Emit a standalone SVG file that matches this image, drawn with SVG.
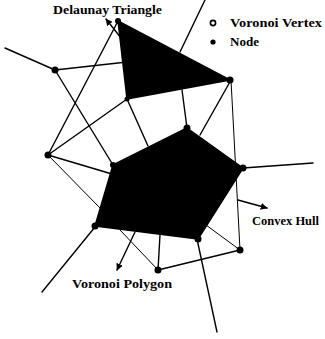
<svg xmlns="http://www.w3.org/2000/svg" width="325" height="339" viewBox="0 0 325 339">
<style>
.lbl{font-family:"Liberation Serif","Times New Roman",serif;font-weight:bold;font-size:13px;fill:#000}
.v{stroke:#000;stroke-width:1.4;fill:none;stroke-linecap:round}
.d{stroke:#000;stroke-width:1;fill:none}
.node{fill:#000}
.reg{fill:#000;stroke:#000;stroke-width:1.5;stroke-linejoin:round}
</style>
<defs>
<marker id="ah" viewBox="0 0 10 10" refX="9" refY="5" markerWidth="7" markerHeight="7" orient="auto" markerUnits="userSpaceOnUse">
<path d="M0,0 L10,5 L0,10 z" fill="#000"/>
</marker>
</defs>
<rect width="325" height="339" fill="#fff"/>
<g id="connectors">
<line class="v" x1="5" y1="48" x2="55" y2="70"/>
<line class="v" x1="55" y1="70" x2="127" y2="62"/>
<line class="v" x1="55" y1="70" x2="113" y2="165"/>
<line class="v" x1="127" y1="99" x2="148" y2="146"/>
<line class="v" x1="48" y1="155" x2="112" y2="174"/>
<line class="v" x1="205" y1="0" x2="180" y2="52"/>
<line class="v" x1="182" y1="90" x2="187" y2="128"/>
<line class="v" x1="231" y1="80" x2="200" y2="135"/>
<line class="v" x1="243" y1="168" x2="313" y2="163"/>
<line class="v" x1="95" y1="227" x2="42" y2="292"/>
<line class="v" x1="197" y1="239" x2="217" y2="332"/>
<line class="v" x1="158" y1="270" x2="160" y2="235"/>
<line class="v" x1="240" y1="250" x2="158" y2="270"/>
<line class="v" x1="48" y1="155" x2="118" y2="21"/>
<line class="v" x1="48" y1="155" x2="127" y2="99"/>
<line class="d" x1="48" y1="155" x2="100" y2="208"/>
<line class="d" x1="231" y1="80" x2="240" y2="250"/>
<line class="d" x1="158" y1="270" x2="120" y2="230"/>
<line class="d" x1="240" y1="250" x2="206" y2="225"/>
<line class="v" x1="121" y1="38" x2="106" y2="19" marker-end="url(#ah)"/>
<line class="v" x1="238" y1="200" x2="267" y2="208" marker-end="url(#ah)"/>
<line class="v" x1="135" y1="232" x2="117" y2="270" marker-end="url(#ah)"/>
</g>
<g id="delaunay-triangle">
<polygon class="reg" points="118,21 230,80 127,99"/>
</g>
<g id="voronoi-polygon">
<polygon class="reg" points="187,128 243,168 198,239 95,226 113,165"/>
</g>
<g id="nodes">
<circle class="node" cx="55" cy="70" r="3.5"/>
<circle class="node" cx="48" cy="155" r="3.5"/>
<circle class="node" cx="118" cy="21" r="3"/>
<circle class="node" cx="230" cy="80" r="3.5"/>
<circle class="node" cx="127" cy="99" r="2.5"/>
<circle class="node" cx="240" cy="250" r="3.5"/>
<circle class="node" cx="158" cy="270" r="3.5"/>
<circle class="node" cx="187" cy="128" r="3.5"/>
<circle class="node" cx="243" cy="168" r="3.5"/>
<circle class="node" cx="113" cy="165" r="3"/>
<circle class="node" cx="95" cy="226" r="3.5"/>
<circle class="node" cx="198" cy="239" r="3.5"/>
</g>
<g id="label-delaunay">
<text class="lbl" x="53" y="14" textLength="109" lengthAdjust="spacingAndGlyphs">Delaunay Triangle</text>
</g>
<g id="legend">
<circle cx="213" cy="23" r="2.6" fill="none" stroke="#000" stroke-width="1.6"/>
<text class="lbl" x="230" y="27" textLength="92" lengthAdjust="spacingAndGlyphs">Voronoi Vertex</text>
<circle cx="213" cy="42" r="2.6" fill="#000"/>
<text class="lbl" x="230" y="46" textLength="29" lengthAdjust="spacingAndGlyphs">Node</text>
</g>
<g id="label-hull">
<text class="lbl" x="252" y="225" textLength="67" lengthAdjust="spacingAndGlyphs">Convex Hull</text>
</g>
<g id="label-polygon">
<text class="lbl" x="72" y="288" textLength="100" lengthAdjust="spacingAndGlyphs">Voronoi Polygon</text>
</g>
</svg>
